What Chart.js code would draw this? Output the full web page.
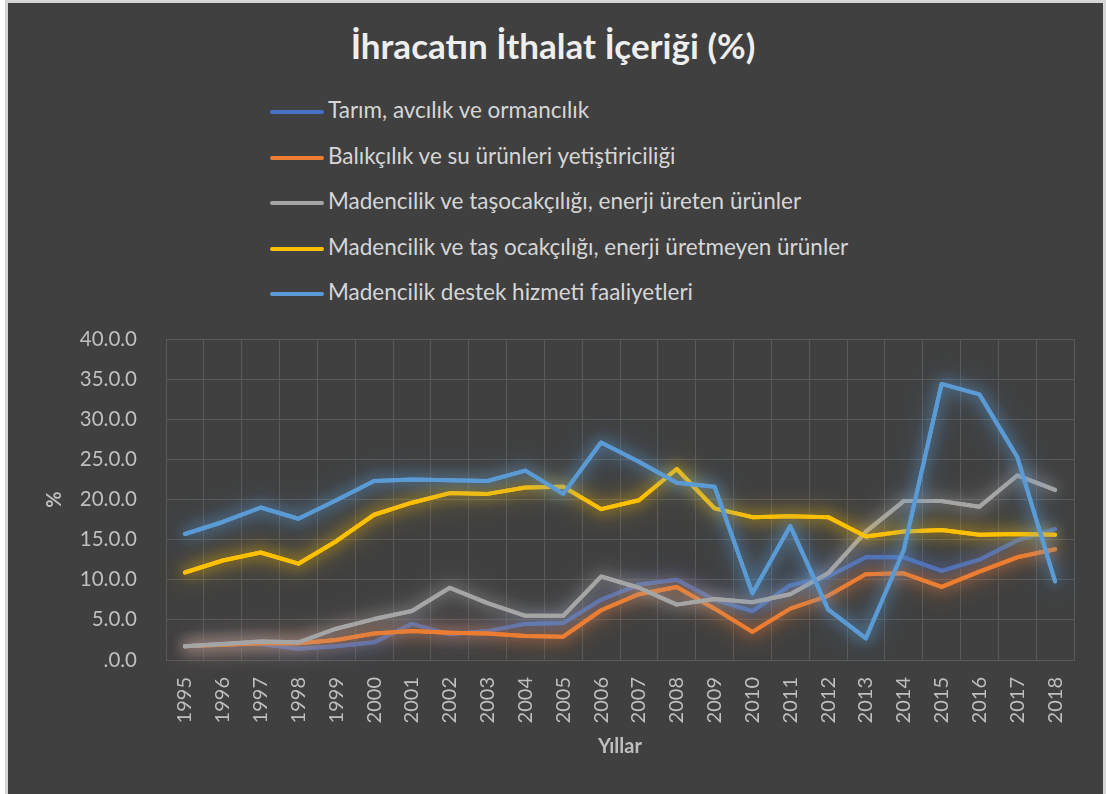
<!DOCTYPE html>
<html lang="tr">
<head>
<meta charset="utf-8">
<title>İhracatın İthalat İçeriği (%)</title>
<script src="https://cdn.jsdelivr.net/npm/chart.js@4.4.1/dist/chart.umd.min.js"></script>
<style>
  html, body { margin: 0; padding: 0; background: #ffffff; }
  body { width: 1106px; height: 794px; position: relative; overflow: hidden; font-family: Lato, "Open Sans", sans-serif; }
  #frame { position: absolute; left: 5px; top: 0; width: 1095px; height: 800px; background: #404040; border: 3px solid #d6d6d6; }
  #title { position: absolute; left: 0; width: 1106px; top: 24px; text-align: center; font-weight: bold; font-size: 35px; color: #eeeeee; }
  #legend { position: absolute; left: 270px; top: 96px; }
  .item { height: 45.5px; display: flex; align-items: flex-start; font-size: 22.5px; color: #d6d6d6; }
  .swatch { width: 54px; height: 4px; border-radius: 2px; margin-top: 14px; margin-right: 4px; }
  canvas { position: absolute; left: 0; top: 0; }
</style>
</head>
<body>
<div id="frame"></div>
<div id="title">İhracatın İthalat İçeriği (%)</div>
<div id="legend"></div>
<canvas id="chart" width="1106" height="794"></canvas>
<script>
const years = ['1995', '1996', '1997', '1998', '1999', '2000', '2001', '2002', '2003', '2004', '2005', '2006',
  '2007', '2008', '2009', '2010', '2011', '2012', '2013', '2014', '2015', '2016', '2017', '2018'];

const tarim = [1.7, 2.0, 2.0, 1.4, 1.7, 2.2, 4.5, 3.2, 3.6, 4.5, 4.6, 7.5, 9.4, 10.0, 7.5, 6.1, 9.3, 10.4, 12.8, 12.8, 11.1, 12.5, 14.9, 16.3];
const balikcilik = [1.7, 1.9, 2.1, 2.1, 2.5, 3.3, 3.6, 3.4, 3.3, 3.0, 2.9, 6.2, 8.2, 9.1, 6.4, 3.5, 6.4, 8.0, 10.7, 10.8, 9.1, 11.0, 12.8, 13.8];
const enerjiUreten = [1.7, 2.0, 2.3, 2.2, 3.9, 5.1, 6.1, 9.0, 7.1, 5.5, 5.5, 10.4, 9.0, 6.9, 7.6, 7.2, 8.2, 10.8, 16.0, 19.8, 19.8, 19.1, 23.0, 21.2];
const enerjiUretmeyen = [10.9, 12.4, 13.4, 12.0, 14.8, 18.1, 19.6, 20.8, 20.7, 21.5, 21.6, 18.8, 19.9, 23.8, 18.9, 17.8, 17.9, 17.8, 15.4, 16.0, 16.2, 15.6, 15.7, 15.6];
const destek = [15.7, 17.2, 19.0, 17.6, 19.9, 22.3, 22.5, 22.4, 22.3, 23.6, 20.7, 27.1, 24.7, 22.1, 21.6, 8.3, 16.7, 6.3, 2.7, 13.7, 34.4, 33.1, 25.3, 9.8];

const seriesNames = [
  'Tarım, avcılık ve ormancılık',
  'Balıkçılık ve su ürünleri yetiştiriciliği',
  'Madencilik ve taşocakçılığı, enerji üreten ürünler',
  'Madencilik ve taş ocakçılığı, enerji üretmeyen ürünler',
  'Madencilik destek hizmeti faaliyetleri'
];
const yTickLabels = ['.0.0', '5.0.0', '10.0.0', '15.0.0', '20.0.0', '25.0.0', '30.0.0', '35.0.0', '40.0.0'];

const colors = ['#4472c4', '#ed7d31', '#a5a5a5', '#ffc000', '#5b9bd5'];
const glows = ['rgba(68,114,196,0.9)', 'rgba(237,125,49,0.9)', 'rgba(165,165,165,0.85)', 'rgba(255,192,0,0.8)', 'rgba(91,155,213,0.9)'];
const values = [tarim, balikcilik, enerjiUreten, enerjiUretmeyen, destek];

// legend as html, one row per series
const legend = document.getElementById('legend');
legend.innerHTML = seriesNames.map((n, i) =>
  `<div class="item"><span class="swatch" style="background:${colors[i]}"></span><span>${n}</span></div>`).join('');

// soft glow round each line, one extra blurred pass then the normal one
const glowPlugin = {
  id: 'glow',
  beforeDatasetDraw(chart, args) {
    const ctx = chart.ctx;
    ctx.save();
    ctx.shadowColor = glows[args.index];
    ctx.shadowBlur = 26;
    args.meta.controller.draw();
    ctx.shadowBlur = 14;
  },
  afterDatasetDraw(chart) {
    chart.ctx.restore();
  }
};

const grid = '#595959';
const tickColor = '#bfbfbf';

new Chart(document.getElementById('chart'), {
  type: 'line',
  data: {
    labels: years,
    datasets: values.map((v, i) => ({
      label: seriesNames[i],
      data: v,
      borderColor: colors[i],
      backgroundColor: colors[i],
      borderWidth: 4,
      borderCapStyle: 'round',
      borderJoinStyle: 'round',
      pointRadius: 0,
      tension: 0,
      order: 5 - i
    }))
  },
  options: {
    responsive: false,
    animation: false,
    devicePixelRatio: 1,
    layout: { padding: { top: 339, left: 0, right: 32, bottom: 0 } },
    plugins: {
      legend: { display: false },
      title: { display: false },
      tooltip: { enabled: false }
    },
    scales: {
      x: {
        offset: true,
        grid: { color: grid, offset: true, drawTicks: false, lineWidth: 1 },
        border: { color: grid },
        ticks: {
          color: tickColor, font: { family: 'Lato', size: 20 },
          minRotation: 90, maxRotation: 90, padding: 17, autoSkip: false
        },
        title: {
          display: true, text: 'Yıllar', color: tickColor,
          font: { family: 'Lato', size: 20, weight: 'bold' }, padding: { bottom: 35 }
        },
        afterFit(scale) { scale.height = 134; }
      },
      y: {
        min: 0, max: 40,
        grid: { color: grid, drawTicks: false },
        border: { color: grid },
        ticks: {
          stepSize: 5, color: tickColor, padding: 29,
          font: { family: 'Lato', size: 20.5 },
          callback: (v, idx) => yTickLabels[idx]
        },
        title: {
          display: true, text: '%', color: tickColor,
          font: { family: 'Lato', size: 20, weight: 'bold' }, padding: { top: 43 }
        },
        afterFit(scale) { scale.width = 166; }
      }
    }
  },
  plugins: [glowPlugin]
});
</script>
</body>
</html>
